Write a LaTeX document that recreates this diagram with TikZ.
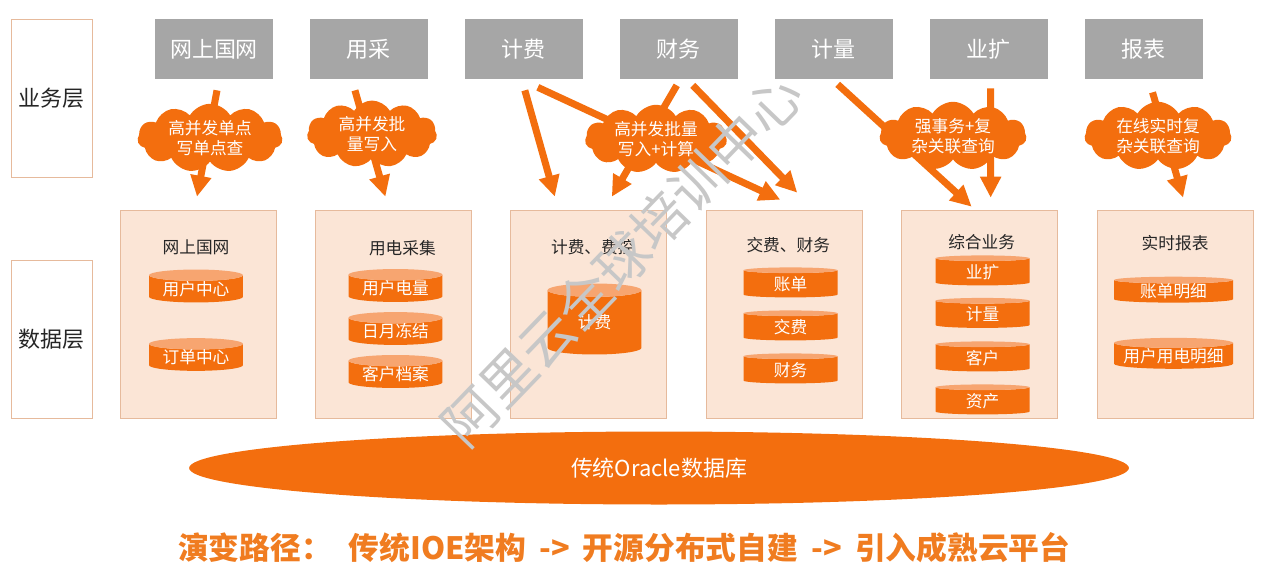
\documentclass[tikz,border=0pt]{standalone}
\usepackage{fontspec}
\setmainfont{Noto Sans CJK SC}
\usetikzlibrary{arrows.meta,positioning,calc,shapes.geometric,shapes.symbols}
\definecolor{aliorange}{RGB}{243,110,14}
\definecolor{alitop}{RGB}{247,165,112}
\definecolor{softpeach}{RGB}{251,229,214}
\definecolor{tanline}{RGB}{230,186,156}
\definecolor{bizgray}{RGB}{166,166,166}
\definecolor{pathorange}{RGB}{240,124,32}

\begin{document}
\begin{tikzpicture}[
    x=0.02cm, y=-0.02cm,
    every node/.style={font=\fontsize{9.5}{11.5}\selectfont},
    layerbox/.style={draw=tanline, fill=white, minimum width=1.62cm, minimum height=3.16cm, font=\fontsize{12.5}{14}\selectfont, text=black!85},
    biz/.style={fill=bizgray, text=white, minimum width=2.36cm, minimum height=1.2cm, font=\fontsize{12.5}{14}\selectfont},
    datagroup/.style={draw=tanline, fill=softpeach, minimum width=3.12cm, minimum height=4.16cm},
    grouptitle/.style={text=black!85},
    db/.style={cylinder, shape border rotate=90, aspect=0.17, cylinder uses custom fill, cylinder body fill=aliorange, cylinder end fill=alitop, minimum width=1.88cm, minimum height=0.6cm, inner sep=0pt, text=white},
    need/.style={cloud, cloud puffs=11, cloud puff arc=120, aspect=2.3, fill=aliorange, text=white, align=center, inner sep=0pt, minimum width=2.9cm, minimum height=1.22cm},
    arrow/.style={-{Triangle[length=0.42cm,width=0.4cm]}, line width=0.14cm, draw=aliorange}
  ]
    \useasboundingbox (0,0) rectangle (1268,576);

    % layers
    \node[layerbox] (bizlayer) at (51.5,98) {业务层};
    \node[layerbox] (datalayer) at (51.5,339) {数据层};

    % business systems
    \node[biz] (t1) at (214,49) {网上国网};
    \node[biz, right=0.725cm of t1] (t2) {用采};
    \node[biz, right=0.725cm of t2] (t3) {计费};
    \node[biz, right=0.725cm of t3] (t4) {财务};
    \node[biz, right=0.725cm of t4] (t5) {计量};
    \node[biz, right=0.725cm of t5] (t6) {业扩};
    \node[biz, right=0.725cm of t6] (t7) {报表};

    % data groups
    \node[datagroup] (d1) at (198,314) {};
    \node[datagroup, right=0.775cm of d1] (d2) {};
    \node[datagroup, right=0.775cm of d2] (d3) {};
    \node[datagroup, right=0.775cm of d3] (d4) {};
    \node[datagroup, right=0.775cm of d4] (d5) {};
    \node[datagroup, right=0.775cm of d5] (d6) {};

    \node[grouptitle] (g1) at ($(d1.north)+(-2,38)$) {网上国网};
    \node[grouptitle] (g2) at ($(d2.north)+(9,38)$) {用电采集};
    \node[grouptitle] (g3) at ($(d3.north)+(4,37)$) {计费、费控};
    \node[grouptitle] (g4) at ($(d4.north)+(4,35)$) {交费、财务};
    \node[grouptitle] (g5) at ($(d5.north)+(2,32)$) {综合业务};
    \node[grouptitle] (g6) at ($(d6.north)+(0,33)$) {实时报表};

    \node[db] (usercenter) at (196,289) {用户中心};
    \node[db] (ordercenter) at (196,357.5) {订单中心};
    \node[db] (userpower) at (395.5,288.5) {用户电量};
    \node[db] (freeze) at (395.5,331.5) {日月冻结};
    \node[db] (custfile) at (395.5,374.5) {客户档案};
    \node[db, aspect=0.4, minimum height=1.42cm] (billing) at (594.5,322.5) {计费};
    \node[db] (bill) at (790.5,284) {账单};
    \node[db] (payment) at (790.5,327) {交费};
    \node[db] (finance) at (790.5,370) {财务};
    \node[db] (expand) at (982.5,272) {业扩};
    \node[db] (metering) at (982.5,314.5) {计量};
    \node[db] (customer) at (982.5,358) {客户};
    \node[db] (asset) at (982.5,401) {资产};
    \node[db, minimum width=2.38cm, minimum height=0.42cm, aspect=0.1] (billdetail) at (1173.5,291.5) {账单明细};
    \node[db, minimum width=2.38cm, minimum height=0.48cm, aspect=0.1] (usedetail) at (1173.5,356) {用户用电明细};

    % access paths
    \draw[arrow] ($(t1.south)+(3,11)$) -- ($(d1.north)+(-1,-13)$);
    \draw[arrow] ($(t2.south)+(-14,11)$) -- ($(d2.north)+(-8,-13)$);
    \draw[arrow] ($(t3.south)+(1,11)$) -- ($(d3.north)+(-34,-13)$);
    \draw[arrow] ($(t3.south)+(14,8)$) -- ($(d4.north)+(-4,-10)$);
    \draw[arrow] ($(t4.south)+(-2,6)$) -- ($(d3.north)+(23,-13)$);
    \draw[arrow] ($(t4.south)+(14,6)$) -- ($(d4.north)+(13,-17)$);
    \draw[arrow] ($(t5.south)+(4,5)$) -- ($(d5.north)+(-8,-3)$);
    \draw[arrow] ($(t6.south)+(2,9)$) -- ($(d5.north)+(11,-12)$);
    \draw[arrow] ($(t7.south)+(9,13)$) -- ($(d6.north)+(8,-12)$);

    % load types
    \node[need] (c1) at (210,138) {高并发单点\\写单点查};
    \node[need, minimum width=2.6cm] (c2) at (372,134) {高并发批\\量写入};
    \node[need, minimum width=2.84cm] (c3) at (656,139) {高并发批量\\写入+计算};
    \node[need, minimum width=2.94cm] (c4) at (953,136) {强事务+复\\杂关联查询};
    \node[need, minimum width=2.94cm] (c5) at (1158,136) {在线实时复\\杂关联查询};

    \node[ellipse, fill=aliorange, text=white, minimum width=18.8cm, minimum height=1.46cm, font=\fontsize{12.5}{14}\selectfont] (oracle) at (659,468) {传统Oracle数据库};

    \node[text=pathorange, anchor=west, font=\bfseries\fontsize{17.5}{19}\selectfont] (evolution) at (172,548) {演变路径：\hspace{0.55em}传统IOE架构\hspace{0.2em} -> \hspace{0.2em}开源分布式自建\hspace{0.2em} -> \hspace{0.2em}引入成熟云平台};

    \node[rotate=46, text=black!22, font=\fontsize{31}{31}\selectfont] (mark) at (622,260) {阿里云全球培训中心};
\end{tikzpicture}
\end{document}
